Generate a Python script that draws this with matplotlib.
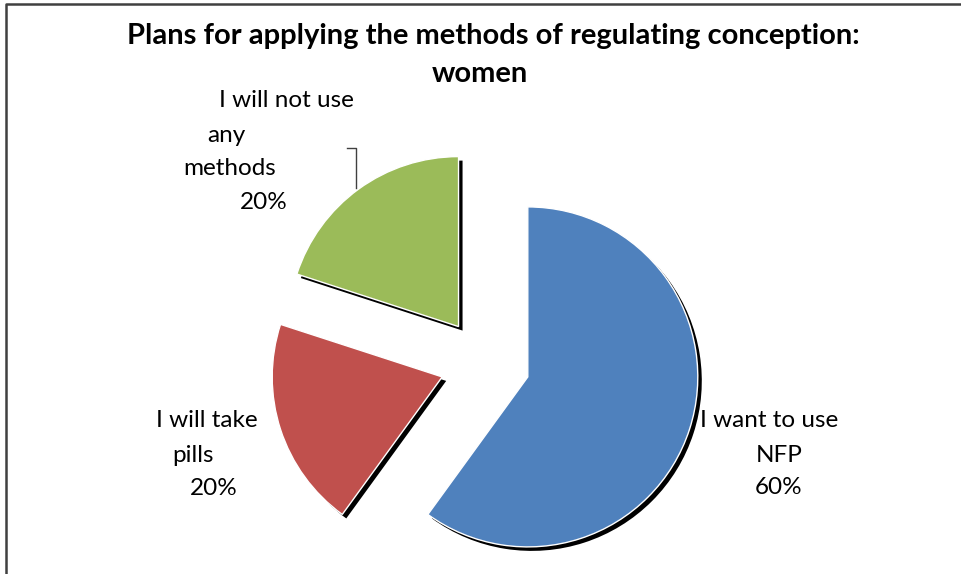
import matplotlib.pyplot as plt

# share of answers, clockwise from 12 o'clock
categories = ['I want to use NFP', 'I will take pills', 'I will not use any methods']
shares = [60, 20, 20]
colors = ['#4F81BD', '#C0504D', '#9BBB59']

# wrapped label lines for each slice (the percentage line is added from shares)
label_lines = [
    ['I want to use', 'NFP'],
    ['I will take', 'pills'],
    ['I will not use', 'any', 'methods'],
]

title = 'Plans for applying the methods of regulating conception:\nwomen'

W, H = 962, 574
plt.rcParams['font.family'] = ['Lato', 'DejaVu Sans']

fig = plt.figure(figsize=(W / 100, H / 100), dpi=100)
ax = fig.add_axes([0, 0, 1, 1])

cx, cy, r = 485, H - 363, 170
# explode is in data units here, since the radius is given in pixels
expl = [45] * len(shares)

# black drop shadow, then the slices on top
ax.pie(shares, colors=['black'] * len(shares), startangle=90, counterclock=False,
       explode=expl, radius=r, center=(cx + 4, cy - 4),
       wedgeprops=dict(linewidth=0))
ax.pie(shares, colors=colors, startangle=90, counterclock=False,
       explode=expl, radius=r, center=(cx, cy),
       wedgeprops=dict(edgecolor='white', linewidth=1))

ax.set_xlim(0, W)
ax.set_ylim(0, H)
ax.set_aspect('auto')

# label line positions (centre x, baseline y)
label_pos = [
    [(769, 427), (779, 462), (779, 494)],
    [(207, 427), (193, 462), (214, 495)],
    [(286, 107), (226, 142), (230, 175), (264, 209)],
]
total = sum(shares)
for lines, share, pos in zip(label_lines, shares, label_pos):
    texts = lines + [f'{round(100 * share / total)}%']
    for t, (x, y) in zip(texts, pos):
        ax.text(x, H - y, t, ha='center', va='baseline', fontsize=17.5, color='black')

# leader line for the small green slice
ax.plot([347, 356, 356], [H - 148, H - 148, H - 188], color='#404040', lw=1)

t1, t2 = title.split('\n')
ax.text(493, H - 44, t1, ha='center', va='baseline', fontsize=21,
        fontweight='bold', color='black')
ax.text(480, H - 82, t2, ha='center', va='baseline', fontsize=21,
        fontweight='bold', color='black')

# chart area border (left and top edges visible)
ax.plot([6, 6, W], [0, H - 4, H - 4], color='#404040', lw=1.8, clip_on=False)

fig.savefig('out.png', dpi=100)
